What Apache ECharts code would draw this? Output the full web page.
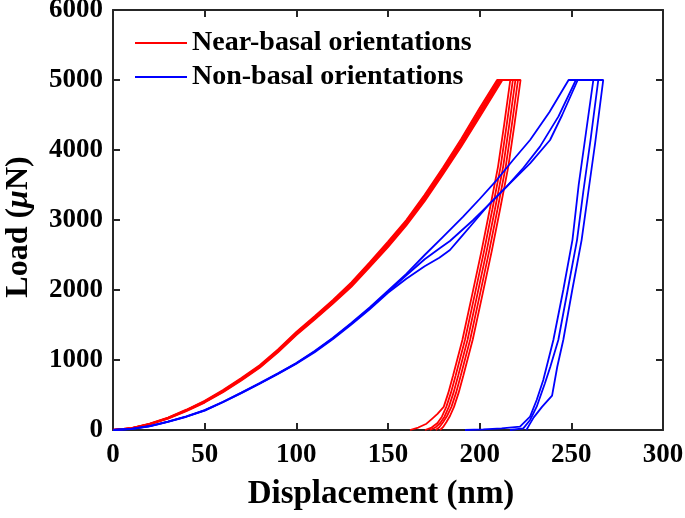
<!DOCTYPE html>
<html>
<head>
<meta charset="utf-8">
<script src="https://cdn.jsdelivr.net/npm/echarts@6/dist/echarts.min.js"></script>
<style>html,body{margin:0;padding:0;background:#fff;}#c{width:685px;height:518px;}</style>
</head>
<body>
<div id="c"></div>
<script>
// ---- Data (displacement nm, load µN) ----
const xTicks = [0, 50, 100, 150, 200, 250, 300];
const yTicks = [0, 1000, 2000, 3000, 4000, 5000, 6000];
const legendNames = ['Near-basal orientations', 'Non-basal orientations'];

// Near-basal (red) curves: loading, hold, unloading
const nearBasal1 = [[0,0],[10,28],[20,90],[30,178],[40,290],[50,418],[60,570],[70,742],[80,925],[90,1150],[100,1400],[110,1625],[120,1860],[130,2110],[140,2395],[150,2690],[160,3000],[170,3360],[180,3750],[190,4160],[200,4600],[209.5,5000],
  [216.7,5000],[213.4,4370],[210,3760],[205.5,3150],[201.1,2570],[195.8,1920],[190.6,1290],[185.5,780],[182.9,530],[180.4,330],[177,230],[174,160],[171,90],[166.5,35],[162,0]];
const nearBasal2 = [[0,0],[10,26],[20,87],[30,173],[40,284],[50,410],[60,561],[70,732],[80,913],[90,1138],[100,1390],[110,1610],[120,1843],[130,2090],[140,2375],[150,2668],[160,2978],[170,3330],[180,3722],[190,4125],[200,4560],[210.2,5000],
  [218.1,5000],[214.8,4370],[211.4,3760],[206.9,3150],[202.5,2570],[197.2,1920],[192,1290],[186.9,780],[184.3,530],[181.8,330],[179.4,190],[177,100],[173.8,35],[170.2,0]];
const nearBasal3 = [[0,0],[10,25],[20,85],[30,170],[40,280],[50,405],[60,555],[70,725],[80,905],[90,1130],[100,1380],[110,1600],[120,1830],[130,2075],[140,2360],[150,2650],[160,2960],[170,3310],[180,3700],[190,4100],[200,4530],[211,5000],
  [219.5,5000],[216.2,4370],[212.8,3760],[208.3,3150],[203.9,2570],[198.6,1920],[193.4,1290],[188.3,780],[185.7,530],[183.2,330],[180.8,190],[178.5,100],[175.8,35],[172.9,0]];
const nearBasal4 = [[0,0],[10,24],[20,83],[30,166],[40,276],[50,399],[60,548],[70,717],[80,897],[90,1120],[100,1368],[110,1590],[120,1817],[130,2060],[140,2345],[150,2632],[160,2942],[170,3290],[180,3680],[190,4078],[200,4502],[211.7,5000],
  [220.9,5000],[217.6,4370],[214.2,3760],[209.7,3150],[205.3,2570],[200,1920],[194.8,1290],[189.7,780],[187.1,530],[184.6,330],[182.2,200],[180,110],[178,40],[176,0]];
const nearBasal5 = [[0,0],[10,22],[20,80],[30,162],[40,270],[50,392],[60,540],[70,708],[80,888],[90,1110],[100,1356],[110,1578],[120,1805],[130,2045],[140,2328],[150,2612],[160,2922],[170,3268],[180,3655],[190,4050],[200,4470],[212.4,5000],
  [222.3,5000],[219,4370],[215.6,3760],[211.1,3150],[206.7,2570],[201.4,1920],[196.2,1290],[191.1,780],[188.5,530],[186,330],[183.8,200],[181.8,110],[180,40],[178.4,0]];

// Non-basal (blue) curves
const nonBasal1 = [[0,0],[10,16],[20,57],[30,120],[40,195],[50,283],[60,404],[70,535],[80,670],[90,810],[100,958],[110,1128],[120,1318],[130,1530],[140,1752],[150,1990],[160,2230],[170,2500],[180,2760],[191,3047],[200,3300],[209.3,3571],[218,3850],[227.5,4143],[238,4540],[248.5,5000],
  [262,5000],[258,4250],[254,3500],[250.6,2713],[245.6,2000],[240.2,1286],[234.7,714],[231.1,429],[227.5,190],[222,47],[212,22],[202,8],[192,0]];
const nonBasal2 = [[0,0],[10,15],[20,55],[30,118],[40,192],[50,280],[60,400],[70,530],[80,665],[90,805],[100,952],[110,1120],[120,1310],[130,1520],[140,1740],[150,1975],[160,2210],[170,2440],[178.4,2600],[183.8,2700],[196.5,3000],[205,3220],[214.7,3476],[224,3750],[232.9,4048],[243,4480],[252.5,5000],
  [264.7,5000],[260.5,4150],[256.5,3400],[253.1,2713],[248,2000],[242.9,1286],[238.5,900],[235.6,667],[231.1,333],[227.5,143],[223.8,24],[216.5,0]];
const nonBasal3 = [[0,0],[10,14],[20,53],[30,115],[40,189],[50,276],[60,396],[70,525],[80,660],[90,799],[100,946],[110,1112],[120,1300],[130,1508],[140,1725],[150,1960],[160,2160],[170,2340],[178,2460],[183.8,2571],[189,2730],[194.7,2904],[205.6,3239],[216.5,3524],[227.5,3810],[238.4,4143],[245,4500],[253.5,5000],
  [267.4,5000],[263,4100],[259,3350],[255.6,2713],[250.5,2000],[245.6,1286],[242.3,900],[239.5,490],[234,330],[229.5,180],[227,70],[225.5,0]];

const redCurves = [nearBasal1, nearBasal2, nearBasal3, nearBasal4, nearBasal5];
const blueCurves = [nonBasal1, nonBasal2, nonBasal3];

// ---- Chart ----
const FONT = '"Liberation Serif", "Times New Roman", serif';
const axisColor = '#262626';
const chart = echarts.init(document.getElementById('c'), null, {renderer: 'canvas'});

function mkSeries(data, name, color) {
  return {
    type: 'line', name: name, data: data, showSymbol: false, symbol: 'none',
    smooth: false, animation: false, silent: true,
    lineStyle: {color: color, width: 1.8}, itemStyle: {color: color},
    xAxisIndex: 0, yAxisIndex: 0, z: 3
  };
}
const series = [];
redCurves.forEach(c => series.push(mkSeries(c, legendNames[0], '#ff0000')));
blueCurves.forEach(c => series.push(mkSeries(c, legendNames[1], '#0000ff')));

const axisCommon = {
  type: 'value',
  axisLine: {show: true, onZero: false, lineStyle: {color: axisColor, width: 2}},
  axisTick: {show: true, inside: true, length: 7, lineStyle: {color: axisColor, width: 2}},
  splitLine: {show: false}
};
const plainNum = v => String(v);

chart.setOption({
  animation: false,
  backgroundColor: '#fff',
  grid: {left: 113, right: 22, top: 10, bottom: 88, containLabel: false, outerBoundsMode: 'none'},
  legend: {
    data: legendNames, left: 135, top: 26, orient: 'vertical', padding: 0,
    icon: 'rect', itemWidth: 52, itemHeight: 2, itemGap: 0,
    selectedMode: false,
    textStyle: {fontFamily: FONT, fontWeight: 'bold', fontSize: 28, color: '#000', lineHeight: 34}
  },
  xAxis: [
    Object.assign({}, axisCommon, {
      min: xTicks[0], max: xTicks[xTicks.length - 1], interval: 50, position: 'bottom',
      axisLabel: {show: true, margin: 12, color: '#000', fontFamily: FONT, fontWeight: 'bold', fontSize: 27, formatter: plainNum},
      name: 'Displacement (nm)', nameLocation: 'middle', nameGap: 48,
      nameTextStyle: {fontFamily: FONT, fontWeight: 'bold', fontSize: 33, color: '#000', padding: [0, 14, 0, 0]}
    }),
    Object.assign({}, axisCommon, {
      min: xTicks[0], max: xTicks[xTicks.length - 1], interval: 50, position: 'top',
      axisLabel: {show: false}
    })
  ],
  yAxis: [
    Object.assign({}, axisCommon, {
      min: yTicks[0], max: yTicks[yTicks.length - 1], interval: 1000, position: 'left',
      axisLabel: {show: true, margin: 10, color: '#000', fontFamily: FONT, fontWeight: 'bold', fontSize: 27, formatter: plainNum},
      name: '{a|Load (}{b|μ}{a|N)}', nameLocation: 'middle', nameGap: 78,
      nameTextStyle: {
        padding: [0, 14, 0, 0],
        rich: {
          a: {fontFamily: FONT, fontWeight: 'bold', fontSize: 32, color: '#000'},
          b: {fontFamily: FONT, fontStyle: 'italic', fontWeight: 'bold', fontSize: 32, color: '#000'}
        }
      }
    }),
    Object.assign({}, axisCommon, {
      min: yTicks[0], max: yTicks[yTicks.length - 1], interval: 1000, position: 'right',
      axisLabel: {show: false}
    })
  ],
  series: series
});
</script>
</body>
</html>
